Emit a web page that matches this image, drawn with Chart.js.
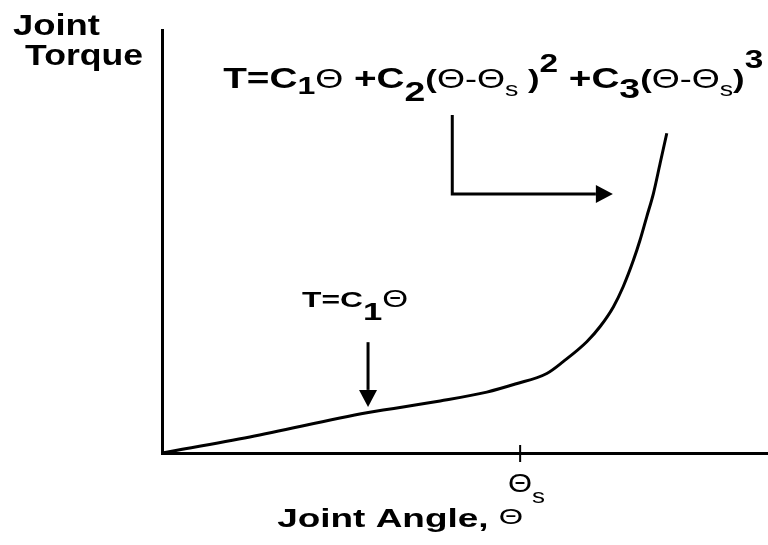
<!DOCTYPE html>
<html>
<head>
<meta charset="utf-8">
<script src="https://cdn.jsdelivr.net/npm/chart.js@4"></script>
<style>
  html, body { margin: 0; padding: 0; background: #fff; }
  canvas { display: block; }
</style>
</head>
<body>
<canvas id="torqueChart" width="768" height="545"></canvas>
<script>
// joint angle (0..100) and joint torque (0..100), arbitrary units
const angle  = [0, 14.5, 33.8, 45.9, 53.6, 58.3, 63.5, 66.2, 70.1, 72.3, 74.5, 76.1, 77.8, 78.9, 80.0, 81.1, 82.2, 83.3];
const torque = [0, 3.8, 9.5, 12.3, 14.4, 16.3, 18.8, 21.6, 26.3, 29.9, 34.6, 39.3, 45.6, 50.4, 55.9, 61.4, 68.5, 75.6];
const thetaS = 59.1;

const B = "'Liberation Sans', Arial, sans-serif";
const bold = s => 'bold ' + s + 'px ' + B;
const reg = s => s + 'px ' + B;

// text blocks: runs of [text, font, baseline shift], anchored in data units, stretched to width w
const labels = [
  { x: -24.6, y: 98.8, w: 87, runs: [['Joint', bold(30), 0]] },
  { x: -22.6, y: 91.7, w: 118, runs: [['Torque', bold(30), 0]] },
  { x: 10.1, y: 86.3, w: 540, runs: [
    ['T=C', bold(29), 0], ['1', bold(24), 6], ['Θ', reg(27), 0], [' +C', bold(29), 0], ['2', bold(28), 13],
    ['(', bold(26), 0], ['Θ-Θ', reg(27), 0], ['s', reg(20), 8], [' )', bold(26), 0], ['2', bold(25), -16],
    [' +C', bold(29), 0], ['3', bold(28), 10], ['(', bold(26), 0], ['Θ-Θ', reg(27), 0], ['s', reg(20), 8],
    [')', bold(26), 0], ['3', bold(25), -20]
  ] },
  { x: 23.1, y: 34.5, w: 106, runs: [['T=C', bold(22), 0], ['1', bold(24), 13], ['Θ', reg(23), 0]] },
  { x: 19.0, y: -17.5, w: 246, runs: [['Joint Angle, ', bold(26), 0], ['Θ', reg(22), -3]] },
  { x: 57.1, y: -9.2, w: 37, runs: [['Θ', reg(25), 0], ['s', reg(21), 11]] }
];

// arrows: polyline in data units, head at the last point
const arrows = [
  [[34.0, 26.2], [34.0, 10.9]],
  [[47.9, 79.9], [47.9, 61.2], [74.4, 61.2]]
];

const sketchPlugin = {
  id: 'sketch',
  afterDatasetsDraw(chart) {
    const { ctx, scales: { x, y } } = chart;
    ctx.save();
    ctx.fillStyle = '#000';
    ctx.strokeStyle = '#000';

    // tick mark at theta_s, crossing the axis
    const tx = x.getPixelForValue(thetaS);
    const ty = y.getPixelForValue(0);
    ctx.lineWidth = 2;
    ctx.beginPath();
    ctx.moveTo(tx, ty - 8);
    ctx.lineTo(tx, ty + 9);
    ctx.stroke();

    arrows.forEach(pts => {
      const p = pts.map(([a, b]) => [x.getPixelForValue(a), y.getPixelForValue(b)]);
      const [ex, ey] = p[p.length - 1];
      const [sx, sy] = p[p.length - 2];
      const ang = Math.atan2(ey - sy, ex - sx);
      const len = 17, half = 9;
      ctx.lineWidth = 3;
      ctx.beginPath();
      ctx.moveTo(p[0][0], p[0][1]);
      for (let i = 1; i < p.length - 1; i++) ctx.lineTo(p[i][0], p[i][1]);
      ctx.lineTo(ex - Math.cos(ang) * len, ey - Math.sin(ang) * len);
      ctx.stroke();
      ctx.beginPath();
      ctx.moveTo(ex, ey);
      ctx.lineTo(ex - Math.cos(ang) * len - Math.sin(ang) * half, ey - Math.sin(ang) * len + Math.cos(ang) * half);
      ctx.lineTo(ex - Math.cos(ang) * len + Math.sin(ang) * half, ey - Math.sin(ang) * len - Math.cos(ang) * half);
      ctx.closePath();
      ctx.fill();
    });

    ctx.textBaseline = 'alphabetic';
    ctx.textAlign = 'left';
    labels.forEach(lb => {
      let total = 0;
      lb.runs.forEach(([t, f]) => { ctx.font = f; total += ctx.measureText(t).width; });
      ctx.save();
      ctx.translate(x.getPixelForValue(lb.x), y.getPixelForValue(lb.y));
      ctx.scale(lb.w / total, 1);
      let cx = 0;
      lb.runs.forEach(([t, f, dy]) => {
        ctx.font = f;
        ctx.fillText(t, cx, dy);
        cx += ctx.measureText(t).width;
      });
      ctx.restore();
    });
    ctx.restore();
  }
};

new Chart(document.getElementById('torqueChart'), {
  type: 'scatter',
  data: {
    datasets: [{
      data: angle.map((a, i) => ({ x: a, y: torque[i] })),
      showLine: true,
      borderColor: '#000',
      borderWidth: 3,
      pointRadius: 0,
      pointHoverRadius: 0,
      cubicInterpolationMode: 'monotone'
    }]
  },
  options: {
    responsive: false,
    animation: false,
    layout: { autoPadding: false, padding: { left: 162, top: 30, right: 0, bottom: 92 } },
    plugins: { legend: { display: false }, tooltip: { enabled: false } },
    scales: {
      x: {
        type: 'linear', min: 0, max: 100,
        ticks: { display: false },
        grid: { display: false, drawTicks: false },
        border: { display: true, color: '#000', width: 3 }
      },
      y: {
        type: 'linear', min: 0, max: 100,
        ticks: { display: false },
        grid: { display: false, drawTicks: false },
        border: { display: true, color: '#000', width: 3 }
      }
    }
  },
  plugins: [sketchPlugin]
});
</script>
</body>
</html>
